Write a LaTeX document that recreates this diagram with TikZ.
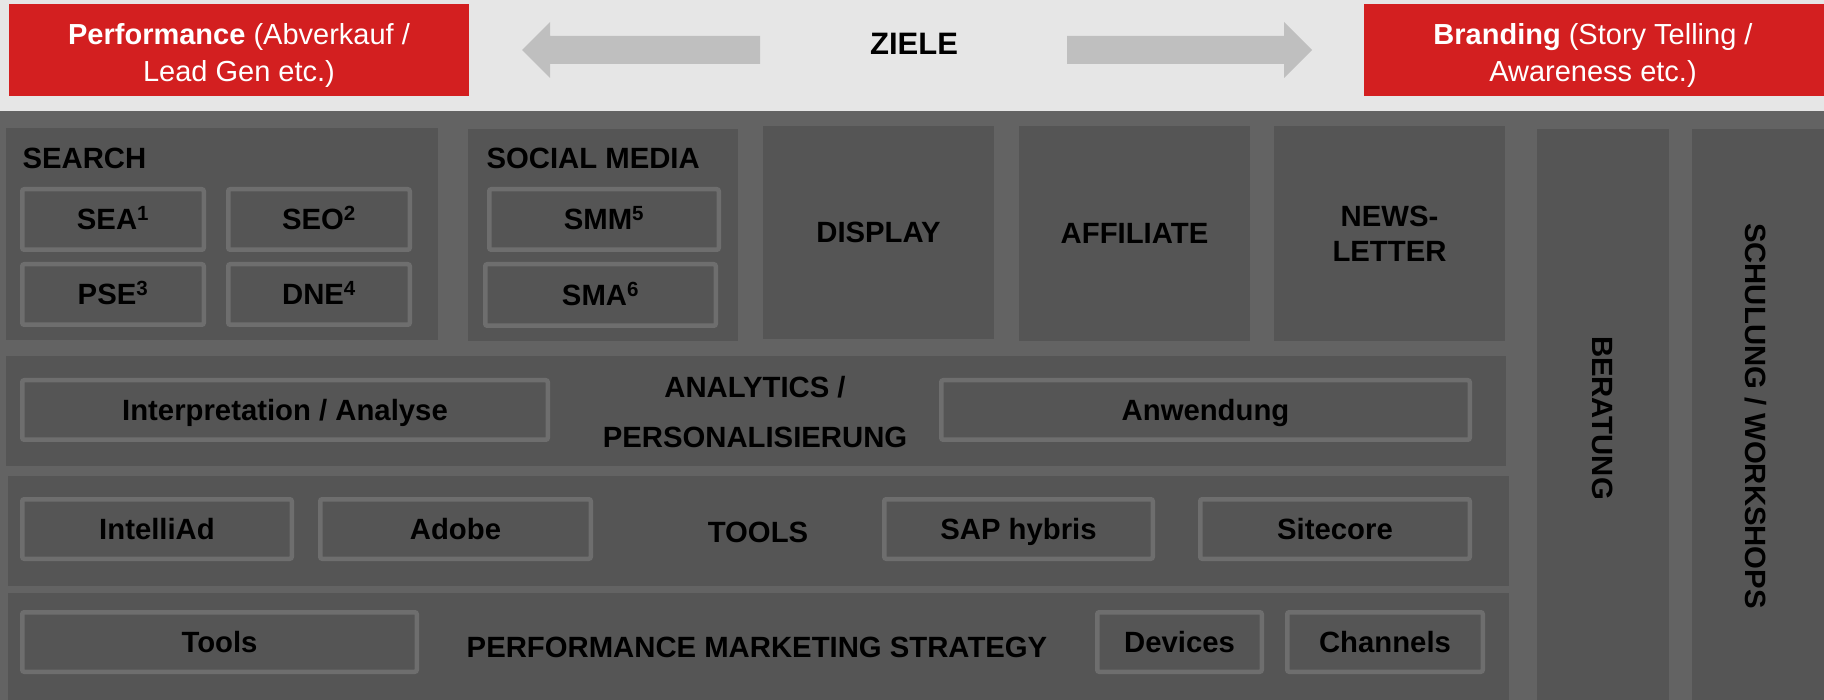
\documentclass[tikz,border=0pt]{standalone}
\usepackage{fontspec}
\setmainfont{Liberation Sans}
\definecolor{topband}{HTML}{E6E6E6}
\definecolor{darkbg}{HTML}{636363}
\definecolor{boxgray}{HTML}{555555}
\definecolor{bordergray}{HTML}{6E6E6E}
\definecolor{arrowgray}{HTML}{BFBFBF}
\definecolor{goalred}{HTML}{D31F20}
\begin{document}
\begin{tikzpicture}[x=1pt,y=-1pt,
  txt/.style={font=\fontsize{29.3}{35}\selectfont\bfseries, text=black},
  captxt/.style={txt, text height=21pt, text depth=0pt},
  panel/.style 2 args={fill=boxgray, draw=none, inner sep=0pt, minimum width=#1pt, minimum height=#2pt},
  sub/.style 2 args={fill=boxgray, draw=bordergray, line width=4.5pt, rounded corners=2pt, inner sep=0pt,
     minimum width=#1pt-4.5pt, minimum height=#2pt-4.5pt, captxt},
  redbox/.style 2 args={fill=goalred, draw=none, inner sep=0pt, minimum width=#1pt, minimum height=#2pt},
  redtxt/.style={text=white, align=center, font=\fontsize{29}{37}\selectfont},
  goalarrow/.style={fill=arrowgray, draw=none}
]
\useasboundingbox (0,0) rectangle (1824,700);
% backgrounds
\fill[topband] (0,0) rectangle (1824,111);
\fill[darkbg] (0,111) rectangle (1824,700);

% goals
\node[redbox={460}{92}] (perf) at (239,50) {};
\node[redtxt] (perflbl) at (239,55) {\textbf{Performance} (Abverkauf /\\Lead Gen etc.)};
\node[redbox={460}{92}] (brand) at (1594,50) {};
\node[redtxt] (brandlbl) at (1593,55) {\textbf{Branding} (Story Telling /\\Awareness etc.)};
\node[captxt, font=\fontsize{31}{36}\selectfont\bfseries, text height=22pt] (ziele) at (914,44) {ZIELE};
\fill[goalarrow] (522,50) -- (550,22) -- (550,36) -- (760,36) -- (760,64) -- (550,64) -- (550,78) -- cycle;
\fill[goalarrow] (1312,50) -- (1284,22) -- (1284,36) -- (1067,36) -- (1067,64) -- (1284,64) -- (1284,78) -- cycle;

% channel panels
\node[panel={432}{212}] (search) at (222,234) {};
\node[captxt, anchor=west] (searchlbl) at (19,158) {SEARCH};
\node[sub={186}{65}] (sea) at (113,219.5) {SEA\textsuperscript{1}};
\node[sub={186}{65}] (seo) at (319,219.5) {SEO\textsuperscript{2}};
\node[sub={186}{65}] (pse) at (113,294.5) {PSE\textsuperscript{3}};
\node[sub={186}{65}] (dne) at (319,294.5) {DNE\textsuperscript{4}};

\node[panel={270}{212}] (social) at (603,235) {};
\node[captxt, anchor=west] (sociallbl) at (483,158) {SOCIAL MEDIA};
\node[sub={234}{65}] (smm) at (604,219.5) {SMM\textsuperscript{5}};
\node[sub={235}{66}] (sma) at (600.5,295) {SMA\textsuperscript{6}};

\node[panel={231}{213}] (display) at (878.5,232.5) {};
\node[captxt] (displaylbl) at (878.5,232.5) {DISPLAY};
\node[panel={231}{215}] (affiliate) at (1134.5,233.5) {};
\node[captxt] (affiliatelbl) at (1134.5,233.5) {AFFILIATE};
\node[panel={231}{215}] (newsletter) at (1389.5,233.5) {};
\node[txt, align=center] (newsletterlbl) at (1389.5,234) {NEWS-\\LETTER};

% side columns
\node[panel={132}{571}] (beratung) at (1603,414.5) {};
\node[captxt, rotate=-90] (beratunglbl) at (1603,418) {BERATUNG};
\node[panel={132}{571}] (schulung) at (1758,414.5) {};
\node[captxt, rotate=-90] (schulunglbl) at (1756,416) {SCHULUNG / WORKSHOPS};

% analytics row
\node[panel={1500}{110}] (analytics) at (756,411) {};
\node[sub={530}{64}] (interp) at (285,410) {Interpretation / Analyse};
\node[sub={533}{64}] (anwend) at (1205.5,410) {Anwendung};
\node[txt, align=center, font=\fontsize{29.3}{50}\selectfont\bfseries] (analyticslbl) at (755,412) {ANALYTICS /\\PERSONALISIERUNG};

% tools row
\node[panel={1501}{110}] (tools) at (758.5,531) {};
\node[sub={274}{64}] (intelliad) at (157,529) {IntelliAd};
\node[sub={275}{64}] (adobe) at (455.5,529) {Adobe};
\node[captxt] (toolslbl) at (758,532) {TOOLS};
\node[sub={273}{64}] (sap) at (1018.5,529) {SAP hybris};
\node[sub={274}{64}] (sitecore) at (1335,529) {Sitecore};

% strategy row
\node[panel={1501}{107}] (strategy) at (758.5,646.5) {};
\node[sub={399}{64}] (toolsb) at (219.5,642) {Tools};
\node[captxt] (strategylbl) at (757,647) {PERFORMANCE MARKETING STRATEGY};
\node[sub={169}{64}] (devices) at (1179.5,642) {Devices};
\node[sub={200}{64}] (channels) at (1385,642) {Channels};
\end{tikzpicture}
\end{document}
